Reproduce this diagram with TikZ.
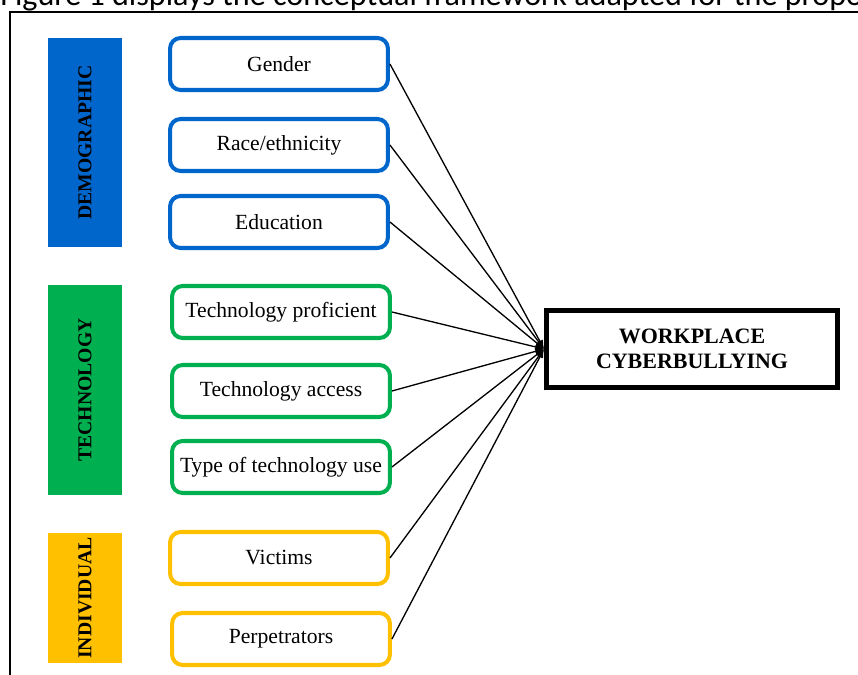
\documentclass[tikz,border=0pt]{standalone}
\usepackage{fontspec}
\setmainfont{Liberation Serif}
\newfontfamily\captionfont{Carlito}
\usepackage{tikz}
\usetikzlibrary{arrows.meta}
\definecolor{demoblue}{HTML}{0066CC}
\definecolor{techgreen}{HTML}{00B050}
\definecolor{indivyellow}{HTML}{FFC000}
\tikzstyle{factor} = [draw, fill=white, line width=2.3pt, rounded corners=6pt, minimum width=124pt, minimum height=29.6pt, font=\fontsize{12.3}{14}\selectfont]
\tikzstyle{group} = [rotate=90, inner sep=1pt, minimum height=42.1pt, font=\fontsize{11.2}{13}\selectfont\bfseries]
\tikzstyle{outcome} = [draw, line width=2.8pt, minimum width=165.6pt, minimum height=43.8pt, align=center, font=\fontsize{12.5}{14.2}\selectfont\bfseries]

\begin{document}
\begin{tikzpicture}[x=0.02cm, y=-0.02cm,
                    link/.style={line width=0.75pt, -{Latex[length=5pt,width=4pt]}}]

    \useasboundingbox (0,0) rectangle (858,675);
    \clip (0,0) rectangle (858,675);

    % caption line cut by the crop
    \node[anchor=base west, inner sep=0pt, font=\captionfont\fontsize{18.3}{20}\selectfont] (caption) at (0,6) {Figure 1 displays the conceptual framework adapted for the propo};
    % frame
    \draw[line width=1.3pt] (10,700) -- (10,12) -- (900,12);

    % demographic
    \node[group, fill=demoblue, minimum width=119pt] (demo) at (85,142.5) {DEMOGRAPHIC};
    \node[factor, draw=demoblue] (gender) at (279,64) {Gender};
    \node[factor, draw=demoblue] (race) at (279,145) {Race/ethnicity};
    \node[factor, draw=demoblue] (edu) at (279,222) {Education};
    % technology
    \node[group, fill=techgreen, minimum width=119.5pt] (tech) at (85,390) {TECHNOLOGY};
    \node[factor, draw=techgreen] (prof) at (281,312) {Technology proficient};
    \node[factor, draw=techgreen] (access) at (281,391) {Technology access};
    \node[factor, draw=techgreen] (use) at (281,467) {Type of technology use};
    % individual
    \node[group, fill=indivyellow, minimum width=74pt] (indiv) at (85,598) {INDIVIDUAL};
    \node[factor, draw=indivyellow] (victims) at (279,558) {Victims};
    \node[factor, draw=indivyellow] (perp) at (281,639) {Perpetrators};
    % outcome
    \node[outcome] (wcb) at (692,349) {WORKPLACE\\CYBERBULLYING};

    % connections factors -> outcome
    \draw[link] (gender.east) -- (wcb.west);
    \draw[link] (race.east) -- (wcb.west);
    \draw[link] (edu.east) -- (wcb.west);
    \draw[link] (prof.east) -- (wcb.west);
    \draw[link] (access.east) -- (wcb.west);
    \draw[link] (use.east) -- (wcb.west);
    \draw[link] (victims.east) -- (wcb.west);
    \draw[link] (perp.east) -- (wcb.west);
\end{tikzpicture}
\end{document}
